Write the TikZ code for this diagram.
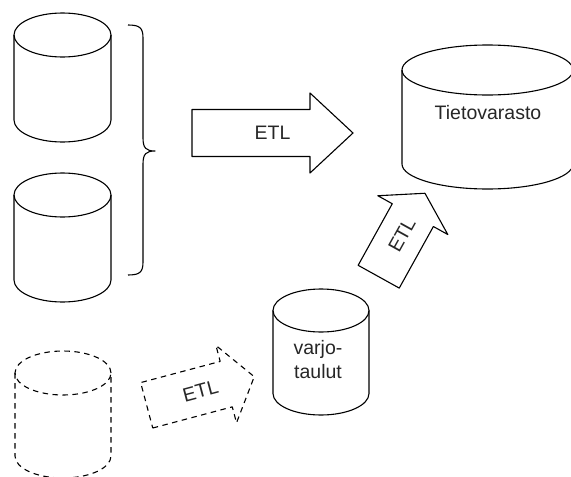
\documentclass[tikz,border=0pt]{standalone}
\usepackage{fontspec}
\setmainfont{Liberation Sans}

% Cylinder (database symbol): options, name, left x, right x, top y, bottom y, end radius
\newcommand{\dbcyl}[7]{%
  \pgfmathsetmacro{\cylcx}{(#3+#4)/2}%
  \pgfmathsetmacro{\cylrx}{(#4-#3)/2}%
  \pgfmathsetmacro{\cylty}{-(#5+#7)}%
  \pgfmathsetmacro{\cylby}{-(#6-#7)}%
  \draw[#1] (\cylcx,\cylty) ellipse [x radius=\cylrx pt, y radius=#7 pt];
  \draw[#1] (#3,\cylty) -- (#3,\cylby)
    arc[start angle=180, end angle=360, x radius=\cylrx pt, y radius=#7 pt]
    -- (#4,\cylty);
  \coordinate (#2) at (\cylcx,{-(#5+#6)/2});
}

% Block arrow labelled ETL: options, name, base x, base y, angle, length, head length
\newcommand{\etlarrow}[7]{%
  \begin{scope}[shift={(#3,#4)}, rotate=#5]
    \draw[#1] (0,-23.5) -- ({#6-#7},-23.5) -- ({#6-#7},-40) -- (#6,0)
      -- ({#6-#7},40) -- ({#6-#7},23.5) -- (0,23.5) -- cycle;
    \node[etllabel, transform shape] (#2) at ({#6/2},0) {ETL};
  \end{scope}
}

\tikzset{
  outline/.style={draw=black, line width=1.1pt, line join=round},
  dashline/.style={outline, dash pattern=on 5.5pt off 4.5pt},
  etllabel/.style={inner sep=0pt, text=black!85, font=\fontsize{19.5}{24}\selectfont},
  dblabel/.style={inner sep=0pt, text=black!85, align=center,
    font=\fontsize{19.5}{24}\selectfont},
}

\begin{document}
\begin{tikzpicture}[x=1pt, y=1pt]
  \useasboundingbox (0,0) rectangle (571,-477);

  % source databases
  \dbcyl{outline}{srcA}{14}{111}{13}{142}{22}
  \dbcyl{outline}{srcB}{14}{111}{173}{302}{22}
  \dbcyl{dashline}{srcC}{15}{111}{351}{478}{22}

  % brace grouping the two sources
  \draw[outline] (128,-25) .. controls (140,-25) and (143,-28) .. (143,-38)
    -- (143,-138) .. controls (143,-148) and (146,-151) .. (155,-151)
    .. controls (146,-151) and (143,-154) .. (143,-164)
    -- (143,-262) .. controls (143,-272) and (140,-275) .. (128,-275);

  % shadow tables
  \dbcyl{outline}{shadow}{273}{369}{289}{415}{21.5}
  \node[dblabel] (shadowtext) at (318,-360) {varjo-\\taulut};

  % data warehouse
  \dbcyl{outline}{dw}{402}{573}{45}{189}{25}
  \node[etllabel] (dwtext) at (488,-113) {Tietovarasto};

  % ETL flows
  \etlarrow{outline}{etlmain}{192}{-133}{0}{161}{43}
  \etlarrow{outline}{etlshadow}{378.7}{-276.7}{61}{95.4}{25}
  \etlarrow{dashline}{etlnew}{146.7}{-405.3}{14.9}{111.3}{29}
\end{tikzpicture}
\end{document}
